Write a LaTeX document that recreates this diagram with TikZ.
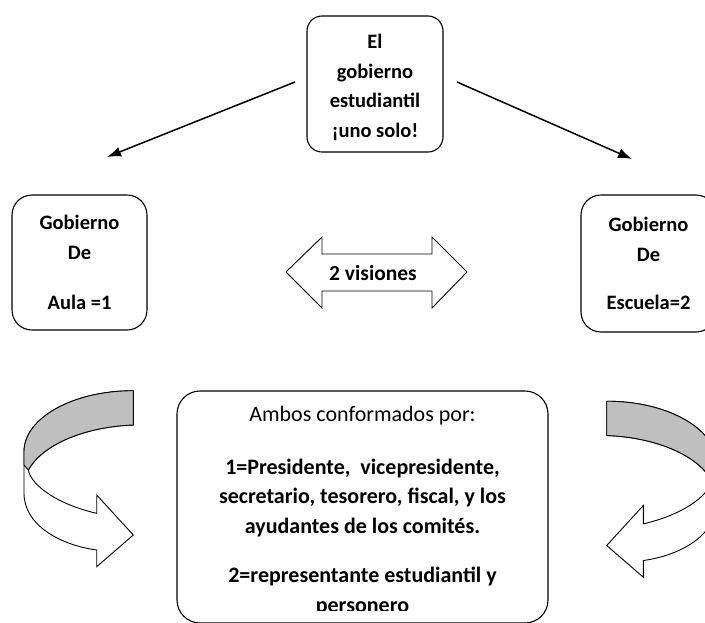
\documentclass[tikz,border=0pt]{standalone}
\usepackage{fontspec}
\setmainfont{Carlito}
\usetikzlibrary{arrows.meta}
\tikzset{
  boxnode/.style={draw=black, line width=1.1pt, fill=white, align=center, inner sep=0pt,
    font=\fontsize{20.5}{29.5}\selectfont\bfseries},
  textnode/.style={align=center, inner sep=0pt, font=\fontsize{20.5}{29.5}\selectfont\bfseries},
  bigtext/.style={align=center, inner sep=0pt, font=\fontsize{22}{29.5}\selectfont\bfseries},
  linkarrow/.style={line width=1.5pt, -{Latex[length=14pt,width=10pt]}},
  bandgray/.style={fill=black!25, draw=black, line width=0.9pt},
  bandwhite/.style={fill=white, draw=black, line width=0.9pt},
  dblarrow/.style={fill=white, draw=black, line width=0.9pt},
}
\newcommand\myCurvedArrow{%
  \path[bandwhite] (133.3,390.7) .. controls (73,390.7) and (24,418) .. (24,451.7)
    -- (24,493.3) .. controls (24,525) and (60,545) .. (96.7,550)
    -- (96.7,566.7) -- (133.3,535) -- (96.7,495) -- (96.7,513.3)
    .. controls (60,505) and (31.7,486.7) .. (28.3,470)
    .. controls (43.3,443.3) and (86.7,426.7) .. (133.3,425) -- cycle;
  \path[bandgray] (133.3,390.7) .. controls (73,390.7) and (24,418) .. (24,451.7)
    -- (24,465) -- (28.3,470)
    .. controls (43.3,443.3) and (86.7,426.7) .. (133.3,425) -- cycle;
}
\begin{document}
\begin{tikzpicture}[x=1pt,y=-1pt]
\useasboundingbox (0,0) rectangle (705,622);
\clip (0,0) rectangle (705,622);
% top box
\node[boxnode, rounded corners=15pt, minimum width=136pt, minimum height=136pt] (top) at (375,84) {};
\node[textnode] (toptext) at (375,87.5) {El\\gobierno\\estudiantil\\¡uno solo!};
% side boxes
\node[boxnode, rounded corners=20pt, minimum width=135pt, minimum height=135pt] (aula) at (79.5,262.5)
  {Gobierno\\De\\[21pt]Aula =1};
\node[boxnode, rounded corners=20pt, minimum width=135pt, minimum height=137pt] (escuela) at (648.5,263.5)
  {Gobierno\\De\\[18.5pt]Escuela=2};
% bottom box
\node[boxnode, rounded corners=23pt, minimum width=371pt, minimum height=232pt] (ambos) at (362.5,507) {};
\begin{scope}
  \clip (0,0) rectangle (705,610.5);
  \node[bigtext] (ambostext) at (362.5,511)
    {{\mdseries Ambos conformados por:}\\[23.5pt]1=Presidente,\ \ vicepresidente,\\secretario, tesorero, fiscal, y los\\ayudantes de los comités.\\[20pt]2=representante estudiantil y\\personero};
\end{scope}
% straight arrows
\coordinate (l1) at (295,82);
\coordinate (l2) at (107,157);
\coordinate (r1) at (457,82);
\coordinate (r2) at (632,159);
\draw[linkarrow] (l1) -- (l2);
\draw[linkarrow] (r1) -- (r2);
% double arrow
\path[dblarrow] (286,272) -- (322,237) -- (322,254) -- (432,254) -- (432,237) -- (467,272)
  -- (432,308) -- (432,291) -- (322,291) -- (322,308) -- cycle;
\node[textnode, font=\fontsize{21.5}{24}\selectfont\bfseries] (vis) at (373,273) {2 visiones};
% curved arrows
\begin{scope}
  \myCurvedArrow
\end{scope}
\begin{scope}[shift={(740,10.5)}, xscale=-1]
  \myCurvedArrow
\end{scope}
\end{tikzpicture}
\end{document}
